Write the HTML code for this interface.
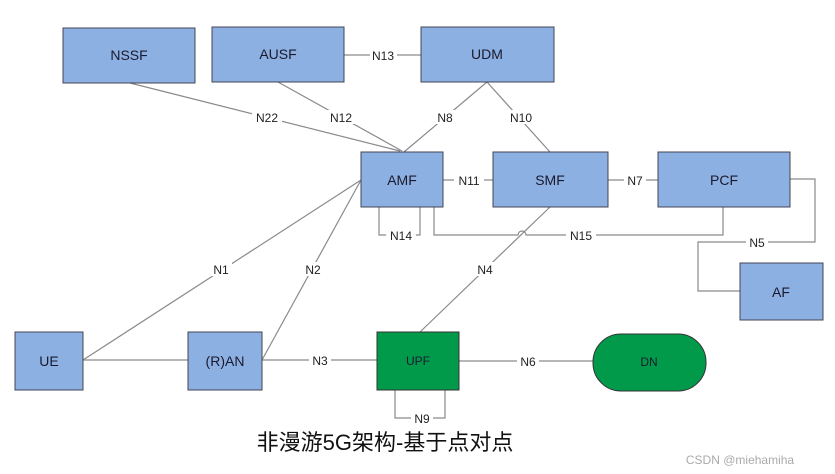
<!DOCTYPE html>
<html><head><meta charset="utf-8"><style>
html,body{margin:0;padding:0;background:#fff;width:835px;height:474px;overflow:hidden}
svg text{font-family:"Liberation Sans",Arial,sans-serif}
</style></head><body>
<svg width="835" height="474" xmlns="http://www.w3.org/2000/svg">
<g stroke="#8a8a8a" stroke-width="1.2" fill="none">
<line x1="130" y1="83" x2="400" y2="151"/>
<line x1="278" y1="82" x2="402" y2="151"/>
<line x1="487" y1="82" x2="404" y2="152"/>
<line x1="487" y1="82" x2="550" y2="152"/>
<line x1="344" y1="55" x2="421" y2="55"/>
<line x1="443" y1="180" x2="493" y2="180"/>
<line x1="608" y1="180" x2="658" y2="180"/>
<polyline points="379,207 379,235 420,235 420,207"/>
<path d="M434,207 V235 H518 a4,4 0 0 1 8,0 H723 V207"/>
<polyline points="790,179 815,179 815,242 698,242 698,291 740,291"/>
<line x1="550" y1="207" x2="420" y2="332"/>
<line x1="83" y1="360" x2="361" y2="180"/>
<line x1="262" y1="360" x2="361" y2="180"/>
<line x1="83" y1="360" x2="188" y2="360"/>
<line x1="262" y1="360" x2="377" y2="360"/>
<line x1="459" y1="361" x2="593" y2="361"/>
<polyline points="395,390 395,418 445,418 445,390"/>
</g>
<g fill="#8db0e2" stroke="#445" stroke-width="1">
<rect x="63" y="28" width="132" height="55"/>
<rect x="212" y="27" width="132" height="55"/>
<rect x="421" y="27" width="133" height="55"/>
<rect x="361" y="152" width="82" height="55"/>
<rect x="493" y="152" width="115" height="55"/>
<rect x="658" y="152" width="132" height="55"/>
<rect x="740" y="263" width="83" height="57"/>
<rect x="15" y="332" width="68" height="58"/>
<rect x="188" y="332" width="74" height="58"/>
</g>
<rect x="377" y="332" width="82" height="58" fill="#009a4a" stroke="#333"/>
<rect x="593" y="334" width="113" height="57" rx="28" fill="#009a4a" stroke="#333"/>
<g font-size="14" fill="#1a1a2e" text-anchor="middle">
<text x="129" y="60">NSSF</text><text x="278" y="59">AUSF</text><text x="487" y="59">UDM</text>
<text x="402" y="185">AMF</text><text x="550" y="185">SMF</text><text x="724" y="185">PCF</text>
<text x="781" y="297">AF</text><text x="49" y="366">UE</text><text x="225" y="366">(R)AN</text>
<text x="418" y="365" font-size="12">UPF</text><text x="649" y="366" font-size="12">DN</text>
</g>
<g font-size="12" fill="#222" text-anchor="middle">
<g fill="#fff"><rect x="370" y="48" width="27" height="14"/><rect x="252" y="110" width="30" height="14"/><rect x="326" y="110" width="30" height="14"/><rect x="433" y="110" width="24" height="14"/><rect x="506" y="110" width="30" height="14"/><rect x="454" y="173" width="30" height="14"/><rect x="624" y="173" width="22" height="14"/><rect x="386" y="228" width="30" height="14"/><rect x="566" y="228" width="30" height="14"/><rect x="746" y="235" width="22" height="14"/><rect x="474" y="262" width="22" height="14"/><rect x="210" y="262" width="22" height="14"/><rect x="302" y="262" width="22" height="14"/><rect x="309" y="353" width="22" height="14"/><rect x="517" y="354" width="22" height="14"/><rect x="411" y="411" width="22" height="14"/></g>
<text x="383" y="60">N13</text><text x="267" y="122">N22</text><text x="341" y="122">N12</text><text x="445" y="122">N8</text><text x="521" y="122">N10</text>
<text x="469" y="185">N11</text><text x="635" y="185">N7</text><text x="401" y="240">N14</text><text x="581" y="240">N15</text><text x="757" y="247">N5</text>
<text x="485" y="274">N4</text><text x="221" y="274">N1</text><text x="313" y="274">N2</text><text x="320" y="365">N3</text><text x="528" y="366">N6</text><text x="422" y="423">N9</text>
</g>
<text x="385" y="450" font-size="22" text-anchor="middle" fill="#111" style='font-family:"Liberation Sans","Noto Sans CJK SC",sans-serif'>非漫游5G架构-基于点对点</text>
<text x="740" y="464" font-size="12" text-anchor="middle" fill="#aaa">CSDN @miehamiha</text>
</svg>
</body></html>
